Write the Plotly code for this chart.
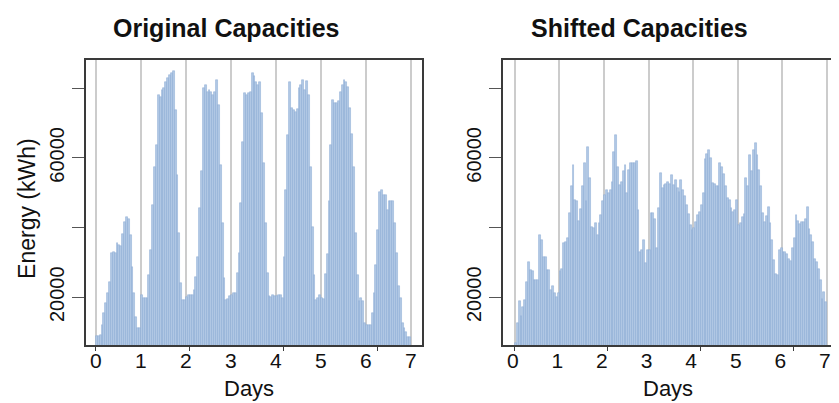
import numpy as np
import plotly.graph_objects as go

# ---------------- data (hourly energy, kWh) ----------------
orig_day0 = [8900, 8900, 9200, 12000, 15400, 18300, 21100, 24500, 32600, 33100, 32800, 35700,
             35000, 34700, 38300, 41700, 43100, 42600, 37900, 28800, 21100, 14400, 11100, 11100]
orig_day1 = [20700, 19700, 19900, 19700, 26400, 33600, 46500, 57500, 63700, 78100, 77400, 79500,
             80000, 81900, 82900, 83800, 84300, 85000, 73800, 55100, 38400, 24000, 19200, 19200]
orig_day2 = [20200, 20700, 20700, 20700, 22000, 25900, 31700, 45500, 56100, 80000, 80900, 79000,
             79500, 79000, 78000, 79000, 82400, 75200, 58000, 41200, 25400, 19200, 19500, 20500]
orig_day3 = [20700, 21200, 21200, 26900, 32600, 47000, 64700, 78500, 78000, 78500, 79000, 84300,
             83600, 81900, 81000, 81900, 72800, 58500, 41200, 26900, 20400, 20200, 20700, 20400]
orig_day4 = [20400, 20700, 20600, 19800, 31700, 50800, 66600, 81900, 74200, 73800, 73300, 74000,
             80000, 81000, 82300, 79500, 82100, 78100, 57500, 40300, 26400, 19200, 19700, 20700]
orig_day5 = [19700, 19400, 26600, 32400, 47500, 63700, 76600, 75700, 75700, 76300, 79000, 81000,
             82300, 81900, 80400, 74200, 67000, 57500, 38400, 26500, 18900, 19700, 18900, 12500]
orig_day6 = [12100, 12100, 12100, 15400, 21100, 29300, 39300, 50300, 50800, 49400, 49400, 45100,
             47500, 47500, 47500, 41200, 32600, 23100, 19700, 12500, 11100, 10100, 8600, 8600]

shift_day0 = [7000, 12500, 19000, 14600, 17300, 19200, 24500, 30200, 27800, 27400, 25000, 25000,
              25000, 37900, 36400, 31600, 31600, 27800, 27800, 22100, 23100, 21100, 20100, 21100]
shift_day1 = [27400, 28000, 35600, 36000, 37000, 44100, 51800, 58000, 47900, 47500, 42000, 45400,
              51800, 58500, 47500, 63200, 54200, 40300, 39800, 41200, 37900, 41200, 43600, 47500]
shift_day2 = [49400, 50800, 49800, 50800, 53200, 61800, 66600, 57500, 52200, 53200, 56100, 58000,
              49800, 56600, 58500, 58500, 58500, 59000, 45100, 33100, 33600, 36500, 29800, 33600]
shift_day3 = [33600, 44100, 44100, 42600, 34100, 45500, 55600, 51300, 52200, 52500, 53200, 52600,
              55100, 52200, 53600, 51300, 50300, 53600, 50800, 49000, 46600, 44000, 40700, 39400]
shift_day4 = [40000, 41500, 43500, 44500, 46500, 50000, 59600, 61000, 62300, 60000, 52700, 52500,
              52000, 52000, 58400, 57500, 55500, 52000, 48500, 48000, 45500, 44500, 45000, 48000]
shift_day5 = [40800, 41200, 43000, 44000, 54100, 52000, 60800, 56100, 62300, 64200, 60800, 56500,
              51800, 44100, 41700, 43200, 46000, 41200, 36400, 30800, 26800, 26400, 33600, 34000]
shift_day6 = [33000, 33000, 32500, 31000, 30500, 34000, 37000, 43500, 42000, 41000, 41500, 41500,
              42500, 46000, 39500, 38000, 36000, 31000, 30000, 28200, 25000, 19500, 21500, 18500]

original = (orig_day0 + orig_day1 + orig_day2 + orig_day3 + orig_day4 + orig_day5 + orig_day6)
shifted = (shift_day0 + shift_day1 + shift_day2 + shift_day3 + shift_day4 + shift_day5 + shift_day6)

day_ticks = [0, 1, 2, 3, 4, 5, 6, 7]
y_ticks = [20000, 40000, 60000, 80000]
y_ticklabels = ["20000", "", "60000", ""]
panel_titles = ["Original Capacities", "Shifted Capacities"]

hours = np.arange(len(original)) + 0.5

# ---------------- figure ----------------
# the page body has an 8px margin, so the figure is laid out in page pixels minus 8
PAGE_W, PAGE_H, OFF = 839, 403, 8
W, H = PAGE_W - OFF, PAGE_H - OFF

def fx(px):
    return (px - OFF) / W

def fy(py):
    return 1 - (py - OFF) / H

FILL = "#b2c8e5"
EDGE = "#88a8d3"
FRAME = "#3a3a3a"
FONT = "Liberation Sans, Arial, Helvetica, sans-serif"

fig = go.Figure()
for i, vals in enumerate([original, shifted]):
    fig.add_trace(go.Bar(
        x=hours, y=vals, width=1.0,
        marker=dict(color=FILL, line=dict(color=EDGE, width=0.5)),
        xaxis="x" if i == 0 else "x2", yaxis="y" if i == 0 else "y2",
        showlegend=False, hoverinfo="x+y"))

ydom = [fy(345), fy(60)]

def xaxis(domain, rng, anchor, shift=0):
    return dict(domain=domain, range=rng, anchor=anchor,
                tickmode="array", tickvals=[d * 24 for d in day_ticks],
                ticktext=[str(d) for d in day_ticks], ticks="",
                tickfont=dict(family=FONT, size=21, color="#111"),
                showgrid=True, gridcolor="#cccccc", gridwidth=2,
                zeroline=False, showline=True, linecolor=FRAME, linewidth=1.5,
                mirror=True, ticklabelstandoff=-4, ticklabelshift=shift,
                minor=dict(tickmode="linear", tick0=0, dtick=50, ticks="outside",
                           ticklen=4, tickcolor=FRAME, tickwidth=1, showgrid=False))

def yaxis(anchor):
    return dict(domain=ydom, range=[6300, 88100], anchor=anchor,
                tickmode="array", tickvals=y_ticks, ticktext=y_ticklabels,
                ticks="outside", ticklen=12, tickcolor="#555", tickwidth=1,
                tickangle=-90, tickfont=dict(family=FONT, size=20, color="#111"),
                showgrid=False, zeroline=False, showline=True, linecolor=FRAME,
                linewidth=1.5, mirror=True, ticklabelstandoff=0)

fig.update_layout(
    width=W, height=H, autosize=False,
    margin=dict(l=0, r=0, t=0, b=0),
    paper_bgcolor="white", plot_bgcolor="white",
    bargap=0,
    xaxis=xaxis([fx(86), fx(423)], [-5.3, 173.9], "y"),
    xaxis2=xaxis([fx(504), 1.0], [-6.44, 173.4], "y2", shift=-2),
    yaxis=yaxis("x"), yaxis2=yaxis("x2"),
)

annots = [
    dict(text="<b>%s</b>" % panel_titles[0], x=fx(227), y=fy(28),
         font=dict(family=FONT, size=25, color="#111")),
    dict(text="<b>%s</b>" % panel_titles[1], x=fx(641), y=fy(28),
         font=dict(family=FONT, size=25, color="#111")),
    dict(text="Days", x=fx(250), y=fy(388),
         font=dict(family=FONT, size=22, color="#111")),
    dict(text="Days", x=fx(670), y=fy(388),
         font=dict(family=FONT, size=22, color="#111")),
    dict(text="Energy (kWh)", x=fx(27), y=fy(208), textangle=-90,
         font=dict(family=FONT, size=23, color="#111")),
]
for a in annots:
    a.update(xref="paper", yref="paper", showarrow=False, xanchor="center", yanchor="middle")
fig.update_layout(annotations=annots)

fig.write_html("out.html")
